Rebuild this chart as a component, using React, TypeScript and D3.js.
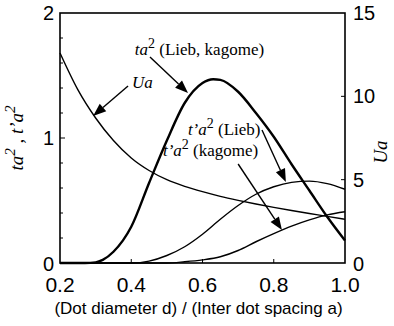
import React from 'react'
import * as d3 from 'd3'

// Ua (right axis) against d/a
const uaX = [0.2, 0.25, 0.3, 0.35, 0.4, 0.45, 0.5, 0.55, 0.6, 0.65, 0.7, 0.75, 0.8, 0.85, 0.9, 0.95, 1.0]
const uaY = [12.6, 10.4, 8.7, 7.35, 6.3, 5.55, 5.0, 4.6, 4.28, 4.0, 3.76, 3.54, 3.34, 3.15, 2.97, 2.8, 2.62]

// ta^2 (Lieb, kagome), thick line
const taX = [0.2, 0.27, 0.3, 0.32, 0.35, 0.4, 0.45, 0.5, 0.55, 0.6, 0.63, 0.65, 0.7, 0.75, 0.8, 0.85, 0.9, 0.95, 1.0]
const taY = [0, 0, 0.005, 0.025, 0.09, 0.29, 0.64, 0.98, 1.28, 1.44, 1.47, 1.465, 1.37, 1.2, 1.01, 0.79, 0.58, 0.37, 0.18]

// t'a^2 (Lieb)
const liebX = [0.2, 0.4, 0.45, 0.5, 0.55, 0.6, 0.65, 0.7, 0.75, 0.8, 0.85, 0.9, 0.95, 1.0]
const liebY = [0, 0, 0.015, 0.06, 0.13, 0.23, 0.35, 0.46, 0.55, 0.61, 0.645, 0.655, 0.635, 0.59]

// t'a^2 (kagome)
const kagX = [0.2, 0.5, 0.55, 0.6, 0.65, 0.7, 0.75, 0.8, 0.85, 0.9, 0.95, 1.0]
const kagY = [0, 0, 0.01, 0.025, 0.05, 0.1, 0.17, 0.235, 0.295, 0.345, 0.385, 0.41]

const xTicks = [0.2, 0.4, 0.6, 0.8, 1.0]
const leftTicks = [0, 1, 2]
const rightTicks = [0, 5, 10, 15]

// label position, arrow start and arrow tip, in left-axis units
const labels = [
    { key: 'ta', pos: [0.41, 1.664], from: [0.4526, 1.648], to: [0.5593, 1.36] },
    { key: 'ua', pos: [0.402, 1.40], from: [0.391, 1.416], to: [0.293, 1.176] },
    { key: 'lieb', pos: [0.559, 1.024], from: [0.767, 1.064], to: [0.834, 0.648] },
    { key: 'kag', pos: [0.489, 0.856], from: [0.70, 0.792], to: [0.823, 0.264] },
]

class App extends React.Component {

    ref = React.createRef<SVGSVGElement>()

    componentDidMount() {
        document.body.style.margin = '0'
        this.draw()
    }

    draw() {
        const node = this.ref.current
        const svg = d3.select(node)
        svg.selectAll('*').remove()

        const margin = { top: 13, right: 49, bottom: 63, left: 60 }
        const width = 394
        const height = 326

        const x = d3.scaleLinear().domain([0.2, 1.0]).range([margin.left, width - margin.right])
        const y = d3.scaleLinear().domain([0, 2]).range([height - margin.bottom, margin.top])
        const yR = d3.scaleLinear().domain([0, 15]).range([height - margin.bottom, margin.top])

        const sans = "'Liberation Sans', Arial, sans-serif"
        const serif = "'Liberation Serif', 'Times New Roman', serif"

        const line = d3.line<[number, number]>().x(d => d[0]).y(d => d[1]).curve(d3.curveMonotoneX)

        const drawCurve = (xs: number[], ys: number[], sc: any, w: number) => {
            svg.append('path')
                .attr('d', line(xs.map((v, i) => [x(v), sc(ys[i])])))
                .attr('fill', 'none')
                .attr('stroke', '#000')
                .attr('stroke-width', w)
        }

        drawCurve(uaX, uaY, yR, 1.4)
        drawCurve(liebX, liebY, y, 1.4)
        drawCurve(kagX, kagY, y, 1.4)
        drawCurve(taX, taY, y, 2.4)

        // frame
        svg.append('rect')
            .attr('x', x(0.2)).attr('y', y(2))
            .attr('width', x(1) - x(0.2)).attr('height', y(0) - y(2))
            .attr('fill', 'none').attr('stroke', '#000').attr('stroke-width', 1.6)

        // ticks (inward)
        svg.append('g').selectAll('line').data(xTicks.slice(1, -1)).join('line')
            .attr('x1', d => x(d)).attr('x2', d => x(d))
            .attr('y1', y(0)).attr('y2', y(0) - 4)
            .attr('stroke', '#000').attr('stroke-width', 1)
        svg.append('g').selectAll('line').data(d3.range(1, 10).map(i => i * 0.2)).join('line')
            .attr('x1', x(0.2)).attr('x2', d => x(0.2) + (Math.abs(d - 1) < 1e-6 ? 5 : 3))
            .attr('y1', d => y(d)).attr('y2', d => y(d))
            .attr('stroke', '#000').attr('stroke-width', 1)
        svg.append('g').selectAll('line').data([5, 10]).join('line')
            .attr('x1', x(1)).attr('x2', x(1) - 4)
            .attr('y1', d => yR(d)).attr('y2', d => yR(d))
            .attr('stroke', '#000').attr('stroke-width', 1)

        // tick labels
        svg.append('g').selectAll('text').data(xTicks).join('text')
            .attr('x', d => x(d)).attr('y', y(0) + 29)
            .attr('text-anchor', 'middle')
            .attr('font-family', sans).attr('font-size', 21)
            .text(d => d.toFixed(1))
        svg.append('g').selectAll('text').data(leftTicks).join('text')
            .attr('x', x(0.2) - 6).attr('y', d => y(d) + 7 + (d === 0 ? 1 : 0))
            .attr('text-anchor', 'end')
            .attr('font-family', sans).attr('font-size', 20)
            .text(d => d)
        svg.append('g').selectAll('text').data(rightTicks).join('text')
            .attr('x', x(1) + 8).attr('y', d => yR(d) + 7 + (d === 0 ? 1 : 0))
            .attr('text-anchor', 'start')
            .attr('font-family', sans).attr('font-size', 20)
            .text(d => d)

        // axis titles
        svg.append('text')
            .attr('x', (x(0.2) + x(1)) / 2 - 4).attr('y', 314)
            .attr('text-anchor', 'middle')
            .attr('font-family', sans).attr('font-size', 17)
            .text('(Dot diameter d) / (Inter dot spacing a)')

        const yl = svg.append('text')
            .attr('transform', `translate(23,${y(1)}) rotate(-90)`)
            .attr('text-anchor', 'middle')
            .attr('font-family', serif).attr('font-size', 19).attr('font-style', 'italic')
        yl.append('tspan').text('ta')
        yl.append('tspan').attr('dy', -8).attr('font-size', 15).text('2')
        yl.append('tspan').attr('dy', 8).text(' , t\u2019a')
        yl.append('tspan').attr('dy', -8).attr('font-size', 15).text('2')

        svg.append('text')
            .attr('transform', `translate(387,${yR(7.5) + 14}) rotate(-90)`)
            .attr('text-anchor', 'middle')
            .attr('font-family', serif).attr('font-size', 19).attr('font-style', 'italic')
            .text('Ua')

        // annotations
        const label = (t: any, key: string) => {
            t.attr('font-family', serif).attr('font-size', 17)
            if (key === 'ua') {
                t.append('tspan').attr('font-style', 'italic').text('Ua')
                return
            }
            t.append('tspan').attr('font-style', 'italic').text(key === 'ta' ? 'ta' : 't\u2019a')
            t.append('tspan').attr('dy', -7).attr('font-size', 14).text('2')
            const rest = key === 'ta' ? ' (Lieb, kagome)' : key === 'lieb' ? ' (Lieb)' : ' (kagome)'
            t.append('tspan').attr('dy', 7).text(rest)
        }

        labels.forEach(l => {
            const t = svg.append('text').attr('x', x(l.pos[0])).attr('y', y(l.pos[1]))
            label(t, l.key)

            const x1 = x(l.from[0]), y1 = y(l.from[1])
            const x2 = x(l.to[0]), y2 = y(l.to[1])
            const ang = Math.atan2(y2 - y1, x2 - x1)
            const hl = 13, hw = 5
            const bx = x2 - hl * Math.cos(ang), by = y2 - hl * Math.sin(ang)
            svg.append('line')
                .attr('x1', x1).attr('y1', y1).attr('x2', bx).attr('y2', by)
                .attr('stroke', '#000').attr('stroke-width', 1.4)
            svg.append('path')
                .attr('d', `M${x2},${y2}L${bx + hw * Math.sin(ang)},${by - hw * Math.cos(ang)}L${bx - hw * Math.sin(ang)},${by + hw * Math.cos(ang)}Z`)
                .attr('fill', '#000')
        })
    }

    render() {
        return <svg ref={this.ref} width={394} height={326} style={{ display: 'block', background: '#fff' }} />
    }
}

export default App
